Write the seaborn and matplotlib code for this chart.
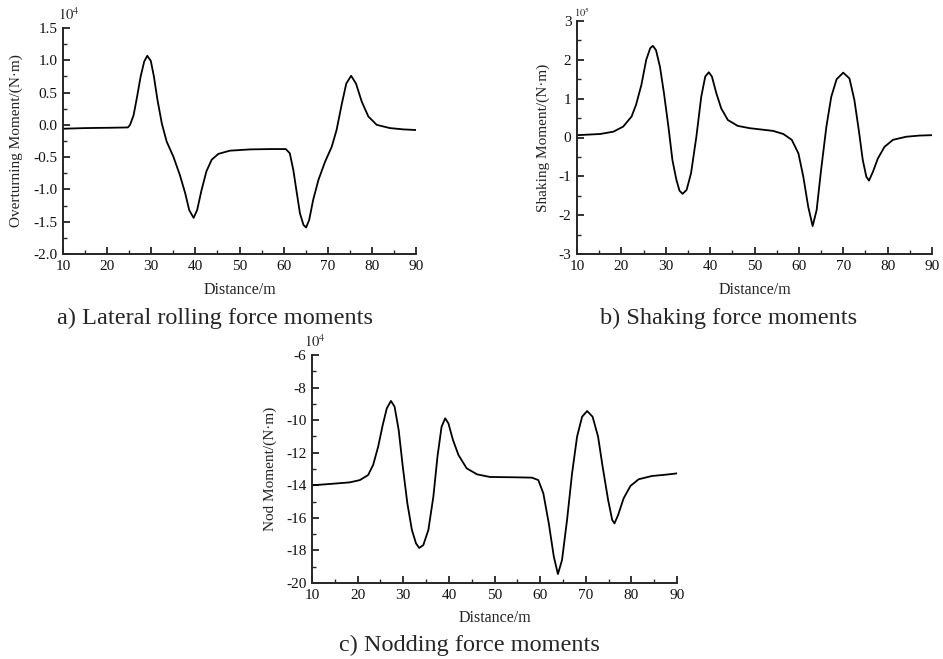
import matplotlib
matplotlib.use("Agg")
import matplotlib.pyplot as plt
import seaborn as sns
from matplotlib.ticker import MultipleLocator, FormatStrFormatter

# Data (x in m, y in units of the exponent label)
dist_a = [10, 15, 20.6, 24.7, 25.2, 26.0, 26.8, 27.6, 28.4, 29.1, 29.9, 30.6, 31.4, 32.4,
          33.5, 35.0, 36.5, 37.7, 38.6, 39.6, 40.4, 41.4, 42.5, 43.7, 45.2, 47.8, 52.4,
          56.9, 60.5, 61.4, 62.2, 63.0, 63.7, 64.5, 65.1, 65.8, 66.7, 67.9, 69.4, 70.9,
          72.0, 73.2, 74.2, 75.3, 76.4, 77.7, 79.2, 81.1, 84.1, 87.1, 90]
overturn = [-0.06, -0.05, -0.045, -0.04, 0.0, 0.15, 0.44, 0.75, 0.98, 1.07, 0.99, 0.75,
            0.39, 0.02, -0.26, -0.49, -0.78, -1.06, -1.32, -1.44, -1.32, -1.01, -0.72,
            -0.54, -0.45, -0.40, -0.38, -0.375, -0.375, -0.44, -0.70, -1.06, -1.37,
            -1.55, -1.59, -1.47, -1.16, -0.85, -0.57, -0.34, -0.08, 0.33, 0.64, 0.76,
            0.64, 0.36, 0.13, 0.0, -0.05, -0.07, -0.08]

dist_b = [10, 15.2, 18.2, 20.4, 22.3, 23.3, 24.5, 25.6, 26.5, 27.1, 27.8, 28.7, 29.6,
          30.6, 31.5, 32.4, 33.1, 33.8, 34.7, 35.7, 36.9, 38.0, 38.9, 39.7, 40.4, 41.4,
          42.5, 44.0, 46.2, 48.9, 51.2, 54.2, 56.5, 58.4, 59.9, 61.0, 62.1, 63.1, 64.0,
          65.0, 66.2, 67.3, 68.5, 70.0, 71.4, 72.5, 73.5, 74.4, 75.2, 75.8, 76.7, 77.8,
          79.3, 81.2, 84.2, 87.2, 90]
shaking = [0.06, 0.09, 0.15, 0.28, 0.54, 0.84, 1.35, 2.0, 2.30, 2.36, 2.25, 1.82, 1.14,
           0.28, -0.58, -1.09, -1.37, -1.45, -1.35, -0.92, 0.02, 1.05, 1.57, 1.68, 1.57,
           1.14, 0.75, 0.45, 0.30, 0.24, 0.21, 0.17, 0.09, -0.06, -0.41, -1.01, -1.78,
           -2.28, -1.87, -0.84, 0.28, 1.05, 1.50, 1.67, 1.52, 0.97, 0.19, -0.58, -1.01,
           -1.11, -0.88, -0.54, -0.24, -0.06, 0.02, 0.05, 0.06]

dist_c = [10, 13.9, 18.3, 20.5, 22.3, 23.4, 24.5, 25.5, 26.4, 27.3, 28.1, 29.0, 29.9,
          30.9, 31.9, 32.8, 33.5, 34.4, 35.5, 36.6, 37.5, 38.4, 39.2, 39.9, 40.9, 42.1,
          43.9, 46.2, 49.0, 54.5, 58.2, 59.6, 60.7, 61.9, 63.0, 63.9, 64.8, 65.9, 67.0,
          68.1, 69.2, 70.3, 71.5, 72.7, 73.7, 74.9, 75.8, 76.3, 77.1, 78.3, 79.8, 81.6,
          84.5, 87.5, 90]
nod = [-14.0, -13.92, -13.82, -13.68, -13.37, -12.75, -11.63, -10.30, -9.27, -8.82,
       -9.17, -10.61, -12.86, -15.11, -16.75, -17.57, -17.85, -17.67, -16.75, -14.70,
       -12.24, -10.40, -9.89, -10.20, -11.22, -12.14, -12.96, -13.33, -13.49, -13.51,
       -13.53, -13.68, -14.49, -16.34, -18.38, -19.45, -18.59, -16.13, -13.27, -11.01,
       -9.79, -9.44, -9.79, -11.01, -12.86, -14.90, -16.13, -16.34, -15.82, -14.80,
       -14.04, -13.63, -13.43, -13.35, -13.27]

sns.set_style("ticks")
plt.rcParams['font.family'] = ['Liberation Serif', 'DejaVu Serif']
plt.rcParams['mathtext.fontset'] = 'stix'

W, H = 943, 659
fig = plt.figure(figsize=(W / 100, H / 100), dpi=100)


def box(x0, y0, x1, y1):
    return [x0 / W, 1 - y1 / H, (x1 - x0) / W, (y1 - y0) / H]


def style_axes(ax, ylim, ymaj, ymin, yfmt, xlab_y, ylab_x):
    ax.set_xlim(10, 90)
    ax.set_ylim(*ylim)
    ax.xaxis.set_major_locator(MultipleLocator(10))
    ax.xaxis.set_minor_locator(MultipleLocator(5))
    ax.yaxis.set_major_locator(MultipleLocator(ymaj))
    ax.yaxis.set_minor_locator(MultipleLocator(ymin))
    ax.yaxis.set_major_formatter(FormatStrFormatter(yfmt))
    ax.tick_params(which='major', direction='in', length=5, width=1.2, labelsize=11,
                   colors='#111111', pad=4)
    ax.tick_params(which='minor', direction='in', length=3, width=1.0)
    for s in ['top', 'right']:
        ax.spines[s].set_visible(False)
    for s in ['left', 'bottom']:
        ax.spines[s].set_linewidth(1.4)
    ax.set_xlabel('Distance/m', fontsize=11.5, color='#222222')
    ax.xaxis.set_label_coords(0.5, xlab_y)
    ax.yaxis.set_label_coords(ylab_x, 0.5)


line_kw = dict(color='black', linewidth=1.3, solid_joinstyle='round')

# a) overturning
ax1 = fig.add_axes(box(63, 28, 416, 254))
sns.lineplot(x=dist_a, y=overturn, ax=ax1, **line_kw)
ax1.set_ylabel('Overturning Moment/(N·m)', fontsize=11, color='#222222')
style_axes(ax1, (-2.0, 1.5), 0.5, 0.25, '%.1f', -0.124, -0.113)
fig.text(58 / W, 1 - 15 / H, r'$10^4$', fontsize=10.5, va='center', ha='left')
fig.text(215 / W, 1 - 318 / H, 'a) Lateral rolling force moments', fontsize=17.5,
         ha='center', va='center')

# b) shaking
ax2 = fig.add_axes(box(577, 21, 932, 254))
sns.lineplot(x=dist_b, y=shaking, ax=ax2, **line_kw)
ax2.set_ylabel('Shaking Moment/(N·m)', fontsize=11, color='#222222')
style_axes(ax2, (-3, 3), 1, 0.5, '%d', -0.120, -0.076)
fig.text(574 / W, 1 - 12 / H, r'$10^5$', fontsize=7.5, va='center', ha='left')
fig.text(729 / W, 1 - 318 / H, 'b) Shaking force moments', fontsize=17.5,
         ha='center', va='center')

# c) nod
ax3 = fig.add_axes(box(312, 355, 677, 583))
sns.lineplot(x=dist_c, y=nod, ax=ax3, **line_kw)
ax3.set_ylabel('Nod Moment/(N·m)', fontsize=11, color='#222222')
style_axes(ax3, (-20, -6), 2, 1, '%d', -0.118, -0.096)
fig.text(304 / W, 1 - 342 / H, r'$10^4$', fontsize=10.5, va='center', ha='left')
fig.text(469 / W, 1 - 645 / H, 'c) Nodding force moments', fontsize=17.5,
         ha='center', va='center')

fig.savefig('out.png', dpi=100)
